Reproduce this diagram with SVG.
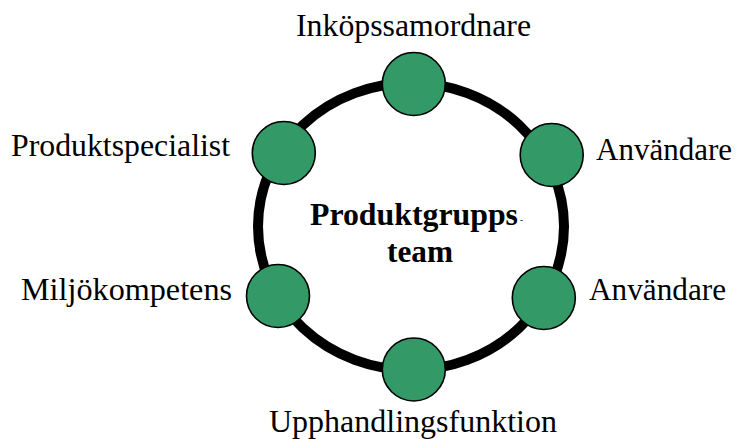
<svg xmlns="http://www.w3.org/2000/svg" width="736" height="439" viewBox="0 0 736 439">
<style>
.node{fill:#339966;stroke:#000;stroke-width:1.6}
.lbl{font-family:"Liberation Serif","Times New Roman",serif;font-size:32px;fill:#000}
.ctr{font-family:"Liberation Serif","Times New Roman",serif;font-size:31px;font-weight:bold;fill:#000}
</style>
<rect width="736" height="439" fill="#fff"/>
<g id="connectors">
<ellipse cx="411" cy="226.5" rx="153" ry="143.5" fill="none" stroke="#000" stroke-width="10"/>
</g>
<g id="center">
<text class="ctr" x="310" y="225" textLength="208" lengthAdjust="spacingAndGlyphs">Produktgrupps</text>
<text class="ctr" x="520" y="223" style="font-size:9px">-</text>
<text class="ctr" x="387" y="262" textLength="66" lengthAdjust="spacingAndGlyphs">team</text>
</g>
<g id="n-top">
<circle class="node" cx="413.8" cy="84" r="31.5"/>
<text class="lbl" x="296" y="36" textLength="235" lengthAdjust="spacingAndGlyphs">Inköpssamordnare</text>
</g>
<g id="n-upper-right">
<circle class="node" cx="551.7" cy="155" r="31.5"/>
<text class="lbl" x="596" y="160" textLength="136" lengthAdjust="spacingAndGlyphs">Användare</text>
</g>
<g id="n-upper-left">
<circle class="node" cx="283.8" cy="153" r="31.5"/>
<text class="lbl" x="11" y="156" textLength="219" lengthAdjust="spacingAndGlyphs">Produktspecialist</text>
</g>
<g id="n-lower-left">
<circle class="node" cx="278" cy="296" r="31.5"/>
<text class="lbl" x="21" y="300" textLength="211" lengthAdjust="spacingAndGlyphs">Miljökompetens</text>
</g>
<g id="n-lower-right">
<circle class="node" cx="543.8" cy="298" r="31.5"/>
<text class="lbl" x="589" y="300" textLength="137" lengthAdjust="spacingAndGlyphs">Användare</text>
</g>
<g id="n-bottom">
<circle class="node" cx="413.8" cy="369.5" r="31.5"/>
<text class="lbl" x="269" y="432" textLength="288" lengthAdjust="spacingAndGlyphs">Upphandlingsfunktion</text>
</g>
</svg>
